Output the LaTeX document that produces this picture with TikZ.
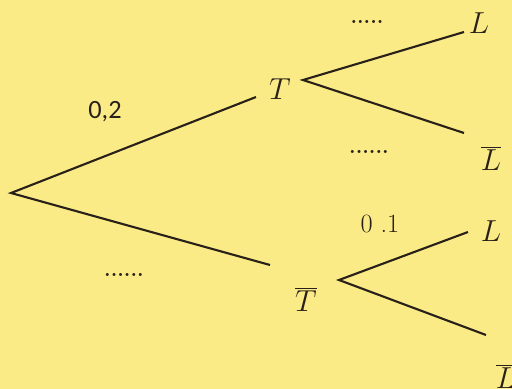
\documentclass[tikz,border=0pt]{standalone}
\usepackage{fontspec}
\newfontfamily\calib{Carlito}
\definecolor{paper}{RGB}{251,235,135}
\definecolor{ink}{RGB}{40,32,25}

\begin{document}
\begin{tikzpicture}[x=0.02cm,y=-0.02cm,
  branch/.style={ink,line width=1.2pt},
  event/.style={ink,font=\fontsize{16}{16}\selectfont},
  prob/.style={ink,font=\fontsize{15}{15}\selectfont},
  blank/.style={ink,font=\bfseries\fontsize{12}{12}\selectfont}]
  \fill[paper] (0,0) rectangle (512,389);
  \useasboundingbox (0,0) rectangle (512,389);
  % branch points and ends
  \coordinate (root) at (11,193);
  \coordinate (rT) at (256,97);
  \coordinate (rTb) at (270,265);
  \coordinate (Tv) at (303,80);
  \coordinate (TL) at (464,32);
  \coordinate (TLb) at (464,133);
  \coordinate (Tbv) at (339,280);
  \coordinate (TbL) at (468,232);
  \coordinate (TbLb) at (486,335);
  % labels
  \node[event] (T) at (280,89) {$T$};
  \node[event] (Tb) at (306,299) {$\overline{T}$};
  \node[event] (L1) at (479,23) {$L$};
  \node[event] (L1b) at (491,158) {$\overline{L}$};
  \node[event] (L2) at (491,231) {$L$};
  \node[event] (L2b) at (506,376) {$\overline{L}$};
  \node[prob,font=\calib\fontsize{15}{15}\selectfont] (pT) at (105,112) {0,2};
  \node[prob] (pTbL) at (380,224) {0 .1};
  \node[blank] (pTL) at (367,22) {.....};
  \node[blank] (pTLb) at (369,152) {......};
  \node[blank] (pTb) at (124,275) {......};
  % branches
  \draw[branch] (rT) -- (root) -- (rTb);
  \draw[branch] (TL) -- (Tv) -- (TLb);
  \draw[branch] (TbL) -- (Tbv) -- (TbLb);
\end{tikzpicture}
\end{document}
